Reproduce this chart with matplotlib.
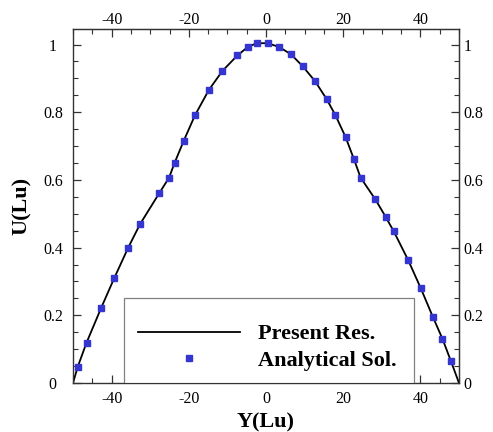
import matplotlib
matplotlib.use("Agg")
import matplotlib.pyplot as plt
from matplotlib.patches import Rectangle
from matplotlib.ticker import MultipleLocator

# Analytical solution (markers)
y_ana = [-48.8, -46.5, -42.7, -39.35, -35.7, -32.6, -27.7, -25.1, -23.7, -21.3,
         -18.4, -14.8, -11.3, -7.4, -4.7, -2.4, 0.4, 3.4, 6.5, 9.5, 12.7, 15.7,
         18.0, 20.6, 22.8, 24.5, 28.3, 31.0, 33.1, 36.8, 40.1, 43.2, 45.7, 47.9]
u_ana = [0.047, 0.119, 0.222, 0.309, 0.400, 0.470, 0.560, 0.607, 0.650, 0.716,
         0.791, 0.866, 0.922, 0.968, 0.993, 1.004, 1.004, 0.993, 0.971, 0.936, 0.892, 0.839,
         0.791, 0.727, 0.661, 0.607, 0.543, 0.491, 0.448, 0.364, 0.280, 0.196, 0.131, 0.065]

# Present results (line)
y_res = [-50.0] + y_ana + [50.0]
u_res = [0.0] + u_ana + [0.0]

xticks = [-40, -20, 0, 20, 40]
yticks = [0, 0.2, 0.4, 0.6, 0.8, 1.0]
yticklabels = ["0", "0.2", "0.4", "0.6", "0.8", "1"]

plt.rcParams['font.family'] = ['Liberation Serif', 'DejaVu Serif']

fig = plt.figure(figsize=(4.93, 4.32), dpi=100)
ax = fig.add_axes([73/493, 49/432, 386/493, 354/432])

spine_col = '#333333'
line, = ax.plot(y_res, u_res, color='black', lw=1.3, zorder=2, label='Present Res.')
pts, = ax.plot(y_ana, u_ana, ls='none', marker='s', ms=4.3, color='#3535d0',
               mec='#3535d0', zorder=3, label='Analytical Sol.')

ax.set_xlim(-50, 50)
ax.set_ylim(0, 1.046)

for s in ax.spines.values():
    s.set_color(spine_col)
    s.set_linewidth(1.0)

ax.set_xticks(xticks)
ax.set_xticklabels([str(t) for t in xticks])
ax.set_yticks(yticks)
ax.set_yticklabels(yticklabels)
ax.xaxis.set_minor_locator(MultipleLocator(5))
ax.yaxis.set_minor_locator(MultipleLocator(0.05))
ax.tick_params(which='both', direction='in', color=spine_col, labelsize=11.5)
ax.tick_params(which='major', length=6, width=0.9)
ax.tick_params(which='minor', length=3.5, width=0.8)
ax.tick_params(axis='x', pad=6)
ax.tick_params(axis='y', pad=14.5)
for lab in ax.get_yticklabels():
    lab.set_horizontalalignment('center')

secx = ax.secondary_xaxis('top')
secx.set_xticks(xticks)
secx.set_xticklabels([str(t) for t in xticks])
secx.xaxis.set_minor_locator(MultipleLocator(5))
secx.tick_params(which='both', direction='in', color=spine_col, labelsize=11.5, pad=1)
secx.tick_params(which='major', length=6, width=0.9)
secx.tick_params(which='minor', length=3.5, width=0.8)
secx.spines['top'].set_color(spine_col)

secy = ax.secondary_yaxis('right')
secy.set_yticks(yticks)
secy.set_yticklabels(yticklabels)
secy.yaxis.set_minor_locator(MultipleLocator(0.05))
secy.tick_params(which='both', direction='in', color=spine_col, labelsize=11.5, pad=3)
secy.tick_params(which='major', length=6, width=0.9)
secy.tick_params(which='minor', length=3.5, width=0.8)
secy.spines['right'].set_color(spine_col)

ax.set_xlabel('Y(Lu)', fontsize=16, fontweight='bold', labelpad=3.5)
ax.set_ylabel('U(Lu)', fontsize=16, fontweight='bold', labelpad=8)

ax.add_patch(Rectangle((0.132, 0.0), 0.751, 0.240, transform=ax.transAxes,
                       fill=True, facecolor='white', edgecolor='#808080', lw=0.9, zorder=4))
leg = ax.legend(handles=[line, pts], loc='upper left', bbox_to_anchor=(0.168, 0.167),
                frameon=False, borderpad=0, borderaxespad=0, handlelength=4.6,
                handletextpad=0.8, labelspacing=0.25, numpoints=1,
                prop={'weight': 'bold', 'size': 16})
leg.set_zorder(5)

fig.savefig('out.png', dpi=100)
